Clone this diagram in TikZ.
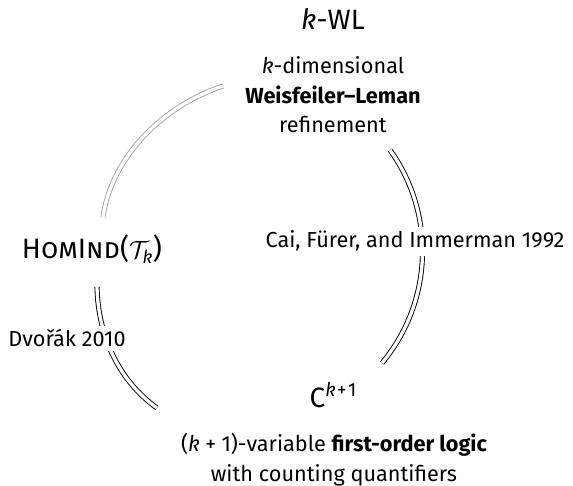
\documentclass[tikz,border=0pt]{standalone}
\usepackage{fontspec}
\setmainfont{Fira Sans}
\newcommand{\kv}{\textit{k}}
\begin{document}
\begin{tikzpicture}[x=1pt,y=-1pt,
  equiv/.style={double, line width=0.9pt, double distance=3.3pt},
  faint/.style={equiv, draw=black!35},
  body/.style={font=\fontsize{21.7}{29.5}\selectfont, align=center, inner sep=0pt, anchor=base},
  big/.style={font=\fontsize{28}{32}\selectfont, inner sep=0pt, anchor=base},
  cite/.style={body, fill=white, inner sep=4pt}]
\useasboundingbox (0,0) rectangle (573,486);

% arc end points
\coordinate (wlA) at (223,86);
\coordinate (homA) at (103,217);
\coordinate (wlB) at (390,150);
\coordinate (cB) at (382,363);
\coordinate (homC) at (97,287);
\coordinate (cC) at (157,408);

% equivalence arcs
\draw[faint] (wlA) .. controls (165,105) and (112,155) .. (homA);
\draw[equiv] (wlB) .. controls (436,214) and (433,302) .. (cB);
\draw[equiv] (homC) .. controls (98,335) and (118,380) .. (cC);

% main nodes (multi-line nodes are placed by the baseline of their last line)
\node[big] (wl) at (333,30) {\kv-WL};
\node[body] (wldesc) at (333,133) {\kv-dimensional\\\textbf{Weisfeiler–Leman}\\refinement};
\node[big] (hom) at (92,259) {\textsc{HomInd}($\mathcal{T}_{\mbox{\fontsize{18}{18}\selectfont\itshape k}}$)};
\node[big] (c) at (333,407) {C\raisebox{11pt}{\fontsize{19}{19}\selectfont\kv\kern0.08em+\kern0.08em1}};
\node[body] (cdesc) at (334,481) {(\kv\kern0.25em+\kern0.25em1)-variable \textbf{first-order logic}\\with counting quantifiers};

% citations on the arcs
\node[cite] (cfi) at (415,248) {Cai, Fürer, and Immerman 1992};
\node[cite] (dv) at (67,347) {Dvořák 2010};
\end{tikzpicture}
\end{document}
